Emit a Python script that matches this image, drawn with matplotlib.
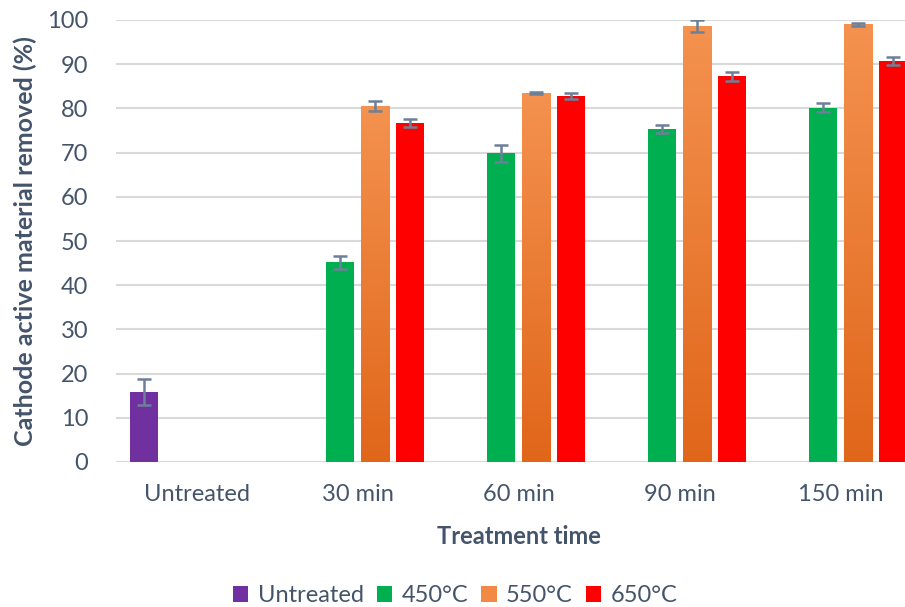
import numpy as np
import matplotlib
matplotlib.use("Agg")
import matplotlib.pyplot as plt
from matplotlib.colors import LinearSegmentedColormap
from matplotlib.patches import Patch

plt.rcParams['font.family'] = ['Lato', 'DejaVu Sans']

categories = ['Untreated', '30 min', '60 min', '90 min', '150 min']
series = ['Untreated', '450°C', '550°C', '650°C']

# values per series, one per category (nan = no bar)
untreated = [15.8, np.nan, np.nan, np.nan, np.nan]
t450 = [np.nan, 45.2, 69.8, 75.3, 80.2]
t550 = [np.nan, 80.5, 83.5, 98.6, 99.0]
t650 = [np.nan, 76.7, 82.8, 87.3, 90.8]

untreated_err = [2.9, 0, 0, 0, 0]
t450_err = [0, 1.5, 1.9, 0.9, 1.0]
t550_err = [0, 1.2, 0.3, 1.3, 0.3]
t650_err = [0, 0.8, 0.6, 1.0, 0.9]

colors = ['#7030A0', '#00B050', '#F28A45', '#FF0000']
text_col = '#44546A'
err_col = '#6D7F99'

fig = plt.figure(figsize=(9.05, 6.07), dpi=100)
ax = fig.add_axes([116 / 905, 1 - 462 / 607, 805 / 905, 442 / 607])

x = np.arange(len(categories))
slot = 0.2174
width = 0.18
data = [untreated, t450, t550, t650]
errs = [untreated_err, t450_err, t550_err, t650_err]

orange_map = LinearSegmentedColormap.from_list('orng', ['#E0661A', '#F4924F'])
grad = np.linspace(0, 1, 256).reshape(-1, 1)

for i, (vals, er) in enumerate(zip(data, errs)):
    pos = x + (i - 1.5) * slot
    vals = np.array(vals, dtype=float)
    er = np.array(er, dtype=float)
    mask = ~np.isnan(vals)
    bars = ax.bar(pos[mask], vals[mask], width, color=colors[i], zorder=3,
                  edgecolor='none')
    if i == 2:
        for b in bars:
            b.set_facecolor('none')
            x0, y0 = b.get_x(), b.get_y()
            im = ax.imshow(grad, cmap=orange_map, origin='lower', aspect='auto',
                           extent=[x0, x0 + b.get_width(), y0, y0 + b.get_height()],
                           zorder=3)
            im.set_clip_path(b)
    ax.errorbar(pos[mask], vals[mask], yerr=er[mask], fmt='none', ecolor=err_col,
                elinewidth=1.8, capsize=5, capthick=1.8, zorder=4)

ax.set_xlim(-0.5, len(categories) - 0.5)
ax.set_ylim(0, 100)
ax.set_yticks(np.arange(0, 101, 10))
ax.set_xticks(x)
ax.set_xticklabels(categories)
ax.grid(axis='y', color='#D9D9D9', linewidth=1.5, zorder=0)
ax.set_axisbelow(True)
for s in ax.spines.values():
    s.set_visible(False)
ax.tick_params(length=0, labelsize=17, colors=text_col)
ax.tick_params(axis='y', pad=20)
ax.tick_params(axis='x', pad=16)

ax.set_ylabel('Cathode active material removed (%)', fontsize=18, fontweight='bold',
              color=text_col, labelpad=7)
ax.set_xlabel('Treatment time', fontsize=17, fontweight='bold', color=text_col,
              labelpad=14)

handles = [Patch(facecolor=c) for c in colors]
fig.legend(handles, series, loc='center', bbox_to_anchor=(0.503, 1 - 596 / 607),
           ncol=4, frameon=False, fontsize=17, labelcolor=text_col,
           handlelength=0.65, handleheight=0.65, handletextpad=0.4, columnspacing=0.55)

fig.savefig('out.png', dpi=100)
